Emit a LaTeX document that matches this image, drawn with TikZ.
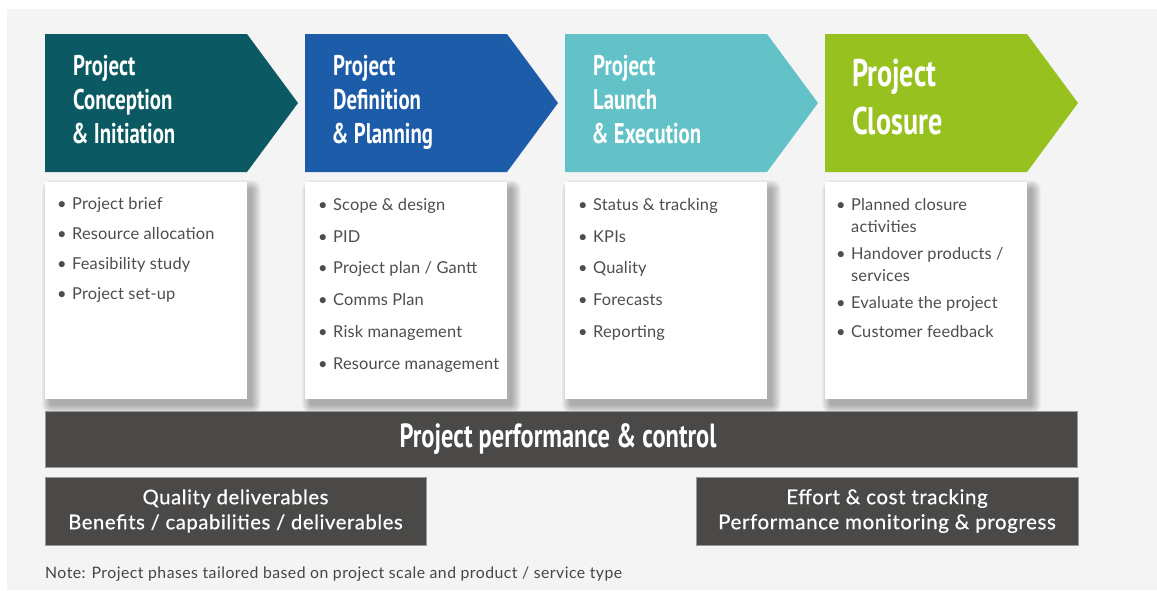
\documentclass[tikz,border=0pt]{standalone}
\usepackage{fontspec}
\setmainfont{Lato}
\newfontfamily\headfont[FakeStretch=0.73]{PT Sans}
\newfontfamily\medfont[FakeBold=0.6,LetterSpace=3]{Lato}
\newfontfamily\notefont[LetterSpace=3]{Lato}
\newfontfamily\itemfont[LetterSpace=1]{Lato}
\definecolor{bg}{HTML}{F4F4F4}
\definecolor{cA}{HTML}{0B5962}
\definecolor{cB}{HTML}{1C5CA9}
\definecolor{cC}{HTML}{63C2C7}
\definecolor{cD}{HTML}{97C11F}
\definecolor{darkbox}{HTML}{4A4947}
\definecolor{txt}{HTML}{4D4D4D}
\definecolor{notec}{HTML}{454545}
\tikzset{
  head/.style={anchor=north west, inner sep=0pt, align=left, text=white,
    font=\headfont\bfseries\fontsize{28.5}{34}\selectfont},
  bighead/.style={anchor=north west, inner sep=0pt, align=left, text=white,
    font=\headfont\bfseries\fontsize{38.5}{48}\selectfont},
  card/.style={fill=white, minimum width=202pt, minimum height=217pt, inner sep=0pt},
  shadowlayer/.style={fill=black, opacity=0.03},
  item/.style={anchor=base west, inner sep=0pt, text=txt,
    font=\itemfont\fontsize{16.4}{22}\selectfont},
  darkbar/.style={fill=darkbox, draw=black!40, line width=0.8pt, inner sep=0pt, text=white},
}
\newcommand{\bu}{\llap{\textbullet\hspace{5.5pt}}}
\begin{document}
\begin{tikzpicture}[x=1pt,y=-1pt]
\useasboundingbox (0,0) rectangle (1157,590);
\fill[white] (0,0) rectangle (1157,590);
\fill[bg] (7,9) rectangle (1157,590);

% chevrons
\foreach \i/\c in {0/cA,1/cB,2/cC,3/cD}{
  \fill[\c] ({45+260*\i},34) -- ++(202,0) -- ++(51,69) -- ++(-51,69) -- ++(-202,0) -- cycle;
}
\node[head] (h1) at (73,55) {Project\\Conception\\\hspace*{-1.5pt}\& Initiation};
\node[head] (h2) at (333,55) {Project\\Definition\\\hspace*{-1.5pt}\& Planning};
\node[head] (h3) at (593,55) {Project\\Launch\\\hspace*{-1.5pt}\& Execution};
\node[bighead] (h4) at (852,59) {Project\\Closure};

% soft shadows of the cards
\foreach \i in {0,...,3}{
  \foreach \k in {1,...,10}{
    \fill[shadowlayer, rounded corners=\k pt]
      ({45+260*\i+6-0.9*\k},{182+8-\k}) rectangle ({247+260*\i+4+\k},{399+5+\k});
  }
}
% cards
\node[card] (box1) at (146,290.5) {};
\node[card] (box2) at (406,290.5) {};
\node[card] (box3) at (666,290.5) {};
\node[card] (box4) at (926,290.5) {};

\node[item] (b11) at (72,209) {\bu Project brief};
\node[item] (b12) at (72,239.5) {\bu Resource allocation};
\node[item] (b13) at (72,269.5) {\bu Feasibility study};
\node[item] (b14) at (72,299) {\bu Project set-up};

\node[item] (b21) at (333,210) {\bu Scope \& design};
\node[item] (b22) at (333,242) {\bu PID};
\node[item] (b23) at (333,273.5) {\bu Project plan / Gantt};
\node[item] (b24) at (333,305) {\bu Comms Plan};
\node[item] (b25) at (333,337) {\bu Risk management};
\node[item] (b26) at (333,369) {\bu Resource management};

\node[item] (b31) at (593,210) {\bu Status \& tracking};
\node[item] (b32) at (593,242) {\bu KPIs};
\node[item] (b33) at (593,273.5) {\bu Quality};
\node[item] (b34) at (593,305) {\bu Forecasts};
\node[item] (b35) at (593,337) {\bu Reporting};

\node[item] (b41) at (851,210) {\bu Planned closure};
\node[item] (b41b) at (851,232) {activities};
\node[item] (b42) at (851,259) {\bu Handover products /};
\node[item] (b42b) at (851,281) {services};
\node[item] (b43) at (851,308) {\bu Evaluate the project};
\node[item] (b44) at (851,337) {\bu Customer feedback};

% bottom bars
\node[darkbar, minimum width=1032pt, minimum height=56pt,
  font=\headfont\bfseries\fontsize{33.5}{40}\selectfont] (bar) at (561,439) {\hspace*{-6pt}Project performance \& control};
\node[darkbar, minimum width=381pt, minimum height=68pt, align=center,
  font=\medfont\fontsize{20.2}{25}\selectfont] (qual) at (235.5,511) {Quality deliverables\\Benefits / capabilities / deliverables};
\node[darkbar, minimum width=382pt, minimum height=68pt, align=center,
  font=\medfont\fontsize{20.5}{25}\selectfont] (eff) at (887,511) {Effort \& cost tracking\\Performance monitoring \& progress};

\node[anchor=base west, inner sep=0pt, text=notec, font=\notefont\fontsize{15.8}{18}\selectfont] (note) at (45,578)
  {Note: Project phases tailored based on project scale and product / service type};
\end{tikzpicture}
\end{document}
